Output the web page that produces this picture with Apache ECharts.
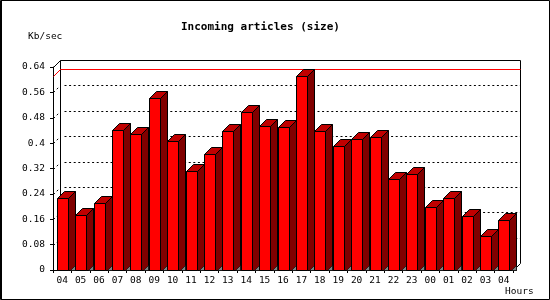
<!DOCTYPE html>
<html>
<head>
<meta charset="utf-8">
<script src="https://cdn.jsdelivr.net/npm/echarts@6/dist/echarts.min.js"></script>
<style>
html,body{margin:0;padding:0;background:#fff;}
#chart{width:550px;height:300px;}
</style>
</head>
<body>
<div id="chart"></div>
<script>
var hours = ['04','05','06','07','08','09','10','11','12','13','14','15','16','17','18','19','20','21','22','23','00','01','02','03','04'];
var kbPerSec = [0.226,0.173,0.210,0.441,0.428,0.541,0.407,0.311,0.365,0.438,0.497,0.453,0.450,0.612,0.438,0.390,0.412,0.418,0.286,0.302,0.198,0.226,0.169,0.106,0.157];
var yTicks = [0,0.08,0.16,0.24,0.32,0.4,0.48,0.56,0.64];
var titleText = 'Incoming articles (size)';
var yUnit = 'Kb/sec';
var xUnit = 'Hours';

var DEPTH = 7;
var MONO = 'DejaVu Sans Mono';
var maxVal = Math.max.apply(null, kbPerSec);

var chart = echarts.init(document.getElementById('chart'), null, {renderer:'canvas'});

function px(v){ return Math.round(v) + 0.5; }

var option = {
  animation: false,
  backgroundColor: '#fff',
  grid: {left: 53, right: 37, top: 67, bottom: 30},
  xAxis: {
    type: 'category',
    data: hours,
    boundaryGap: true,
    axisLine: {lineStyle: {color: '#000', width: 1}},
    axisTick: {show: true, length: 3, lineStyle: {color: '#000'}},
    axisLabel: {color: '#000', fontFamily: MONO, fontSize: 9.5, margin: 6, interval: 0},
    splitLine: {show: false}
  },
  yAxis: {
    type: 'value',
    min: yTicks[0],
    max: yTicks[yTicks.length-1],
    interval: yTicks[1]-yTicks[0],
    axisLine: {show: true, lineStyle: {color: '#000', width: 1}},
    axisTick: {show: true, length: 3, lineStyle: {color: '#000'}},
    axisLabel: {color: '#000', fontFamily: MONO, fontSize: 9.5, margin: 8},
    splitLine: {show: false}
  },
  graphic: [
    {type:'rect', z: 100, shape:{x:0.5,y:0.5,width:549,height:299}, style:{fill:'none', stroke:'#000', lineWidth:1}},
    {type:'line', z: 100, shape:{x1:1.5,y1:0,x2:1.5,y2:300}, style:{stroke:'#000', lineWidth:1}},
    {type:'text', z: 100, left: 181, top: 22, style:{text: titleText, font: 'bold 11px "DejaVu Sans Mono"', fill:'#000'}},
    {type:'text', z: 100, left: 28, top: 32, style:{text: yUnit, font: '9.5px "DejaVu Sans Mono"', fill:'#000'}},
    {type:'text', z: 100, left: 505, top: 287, style:{text: xUnit, font: '9.5px "DejaVu Sans Mono"', fill:'#000'}}
  ],
  series: [
    {
      type: 'custom',
      name: 'backdrop',
      z: 1,
      silent: true,
      data: [[0, maxVal]],
      renderItem: function(params, api){
        var cs = params.coordSys;
        var d = DEPTH;
        var x = cs.x, y = cs.y, w = cs.width, h = cs.height;
        var children = [];
        children.push({type:'polyline', shape:{points:[[px(x+d), px(y+h-d)],[px(x+d), px(y-d)],[px(x+w+d), px(y-d)],[px(x+w+d), px(y+h-d)]]}, style:{fill:'none', stroke:'#000', lineWidth:1}});
        children.push({type:'line', shape:{x1:px(x), y1:px(y), x2:px(x+d), y2:px(y-d)}, style:{stroke:'#000', lineWidth:1}});
        children.push({type:'line', shape:{x1:px(x+w), y1:px(y+h), x2:px(x+w+d), y2:px(y+h-d)}, style:{stroke:'#000', lineWidth:1}});
        for (var i = 1; i < yTicks.length - 1; i++) {
          var yy = api.coord([0, yTicks[i]])[1];
          children.push({type:'line', shape:{x1:px(x+d)+4, y1:px(yy-d), x2:px(x+w+d), y2:px(yy-d)}, style:{stroke:'#000', lineWidth:1, lineDash:[2,2.6]}});
          children.push({type:'line', shape:{x1:px(x), y1:px(yy), x2:px(x+d), y2:px(yy-d)}, style:{stroke:'#000', lineWidth:1, lineDash:[2,2.6]}});
        }
        var ym = api.coord([0, api.value(1)])[1];
        children.push({type:'line', shape:{x1:px(x+d), y1:px(ym-d), x2:px(x+w+d), y2:px(ym-d)}, style:{stroke:'#ff0000', lineWidth:1}});
        children.push({type:'line', shape:{x1:px(x), y1:px(ym), x2:px(x+d), y2:px(ym-d)}, style:{stroke:'#ff0000', lineWidth:1}});
        return {type:'group', children: children};
      }
    },
    {
      type: 'custom',
      name: 'bars',
      z: 3,
      data: kbPerSec.map(function(v, i){ return [i, v]; }),
      encode: {x: 0, y: 1},
      renderItem: function(params, api){
        var top = api.coord([api.value(0), api.value(1)]);
        var base = api.coord([api.value(0), 0]);
        var slot = api.size([1, 0])[0];
        var bw = Math.round(slot * 0.6);
        var d = DEPTH;
        var x0 = px(top[0] - bw / 2);
        var x1 = x0 + bw;
        var yt = px(top[1]);
        var yb = px(base[1]);
        return {type:'group', children:[
          {type:'polygon', shape:{points:[[x1+2, yb],[x1+d, yb-5],[x1+d, yb]]}, style:{fill:'#808080', stroke:'none'}},
          {type:'polygon', shape:{points:[[x1, yt],[x1+d, yt-d],[x1+d, yb],[x1, yb]]}, style:{fill:'#800000', stroke:'#000', lineWidth:1}},
          {type:'polygon', shape:{points:[[x1+2, yb],[x1+d, yb-5],[x1+d, yb]]}, style:{fill:'#808080', stroke:'#000', lineWidth:0.6}},
          {type:'polygon', shape:{points:[[x0, yt],[x0+d, yt-d],[x1+d, yt-d],[x1, yt]]}, style:{fill:'#c00000', stroke:'#000', lineWidth:1}},
          {type:'rect', shape:{x:x0, y:yt, width:bw, height:yb-yt}, style:{fill:'#ff0000', stroke:'#000', lineWidth:1}}
        ]};
      }
    }
  ]
};
chart.setOption(option);
</script>
</body>
</html>
